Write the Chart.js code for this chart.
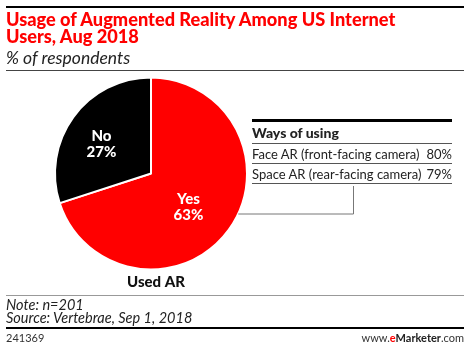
<!DOCTYPE html>
<html>
<head>
<meta charset="utf-8">
<script src="https://cdn.jsdelivr.net/npm/chart.js"></script>
<style>
  body { margin: 0; background: #fff; font-family: "Lato", "Liberation Sans", sans-serif; }
  #page { position: relative; width: 470px; height: 351px; overflow: hidden; }
  #wrap { position: absolute; left: 0; top: 0; width: 470px; height: 351px; }
  .abs { position: absolute; }
  .rule { position: absolute; left: 6px; width: 458px; }
  #title { left: 6px; top: 11px; color: #ff0000; font-weight: 900; font-size: 18.2px; line-height: 17px; }
  #sub { left: 6px; top: 47px; font-style: italic; font-size: 17.5px; color: #222; }
  #note { left: 6px; top: 298px; font-style: italic; font-size: 14.5px; line-height: 13px; color: #222; }
  #foot-id { left: 6px; top: 331px; font-size: 11px; color: #333; }
  #foot-brand { right: 6px; top: 331px; font-size: 11px; color: #333; }
  #ways { left: 252px; top: 119px; width: 200px; font-size: 13px; color: #222; }
  #ways .hd { border-top: 3px solid #000; border-bottom: 1px solid #555; font-weight: 900; font-size: 14px; height: 21px; line-height: 22px; }
  #ways .row { border-bottom: 1px solid #555; height: 19px; line-height: 20px; display: flex; justify-content: space-between; }
</style>
</head>
<body>
<div id="page">
  <div id="wrap"><canvas id="pie"></canvas></div>
  <div class="rule" style="top:6px;height:2px;background:#000"></div>
  <div id="title" class="abs">Usage of Augmented Reality Among US Internet<br>Users, Aug 2018</div>
  <div id="sub" class="abs">% of respondents</div>
  <div class="rule" style="top:70px;height:1px;background:#444"></div>
  <div id="ways" class="abs"></div>
  <div class="rule" style="top:295px;height:1px;background:#999"></div>
  <div id="note" class="abs">Note: n=201<br>Source: Vertebrae, Sep 1, 2018</div>
  <div class="rule" style="top:327px;height:2px;background:#000"></div>
  <div id="foot-id" class="abs">241369</div>
  <div id="foot-brand" class="abs">www.<b style="color:#ff0000">e</b><b style="color:#222">Marketer</b>.com</div>
</div>
<script>
// pie data
const categories = ['Yes', 'No'];
const shares = [63, 27];
const pieColors = ['#ff0000', '#000000'];
const pieTitle = 'Used AR';

// side table
const waysLabels = ['Face AR (front-facing camera)', 'Space AR (rear-facing camera)'];
const waysValues = [80, 79];

// build the little table
const ways = document.getElementById('ways');
let html = '<div class="hd">Ways of using</div>';
waysLabels.forEach((lab, i) => {
    html += `<div class="row"><span>${lab}</span><span>${waysValues[i]}%</span></div>`;
});
ways.innerHTML = html;

// slice labels + caption + connector line
const sliceLabels = {
    id: 'sliceLabels',
    afterDatasetsDraw(chart) {
        const ctx = chart.ctx;
        const arcs = chart.getDatasetMeta(0).data;
        ctx.save();
        ctx.textAlign = 'center';
        ctx.textBaseline = 'middle';
        ctx.font = '900 15px Lato, sans-serif';
        ctx.fillStyle = '#fff';
        arcs.forEach((arc, i) => {
            const mid = (arc.startAngle + arc.endAngle) / 2;
            const r = arc.outerRadius * 0.56;
            const x = arc.x + Math.cos(mid) * r - 6;
            const y = arc.y + Math.sin(mid) * r + 2;
            ctx.fillText(categories[i], x, y - 8);
            ctx.fillText(shares[i] + '%', x, y + 8);
        });
        const a = arcs[0];
        ctx.fillStyle = '#111';
        ctx.fillText(pieTitle, a.x + 5, a.y + a.outerRadius + 13);

        // connector from table to pie
        const ly = a.y + 40;
        const ex = a.x + Math.sqrt(a.outerRadius * a.outerRadius - 40 * 40);
        ctx.strokeStyle = '#777';
        ctx.lineWidth = 1;
        ctx.beginPath();
        ctx.moveTo(353.5, 186);
        ctx.lineTo(353.5, ly + 0.5);
        ctx.lineTo(ex, ly + 0.5);
        ctx.stroke();
        ctx.restore();
    }
};

new Chart(document.getElementById('pie'), {
    type: 'pie',
    data: {
        labels: categories,
        datasets: [{
            data: shares,
            backgroundColor: pieColors,
            borderColor: '#fff',
            borderWidth: 2
        }]
    },
    options: {
        responsive: true,
        maintainAspectRatio: false,
        animation: false,
        layout: { padding: { left: 54, top: 76, right: 222, bottom: 80 } },
        plugins: {
            legend: { display: false },
            tooltip: { enabled: false }
        }
    },
    plugins: [sliceLabels]
});
</script>
</body>
</html>
